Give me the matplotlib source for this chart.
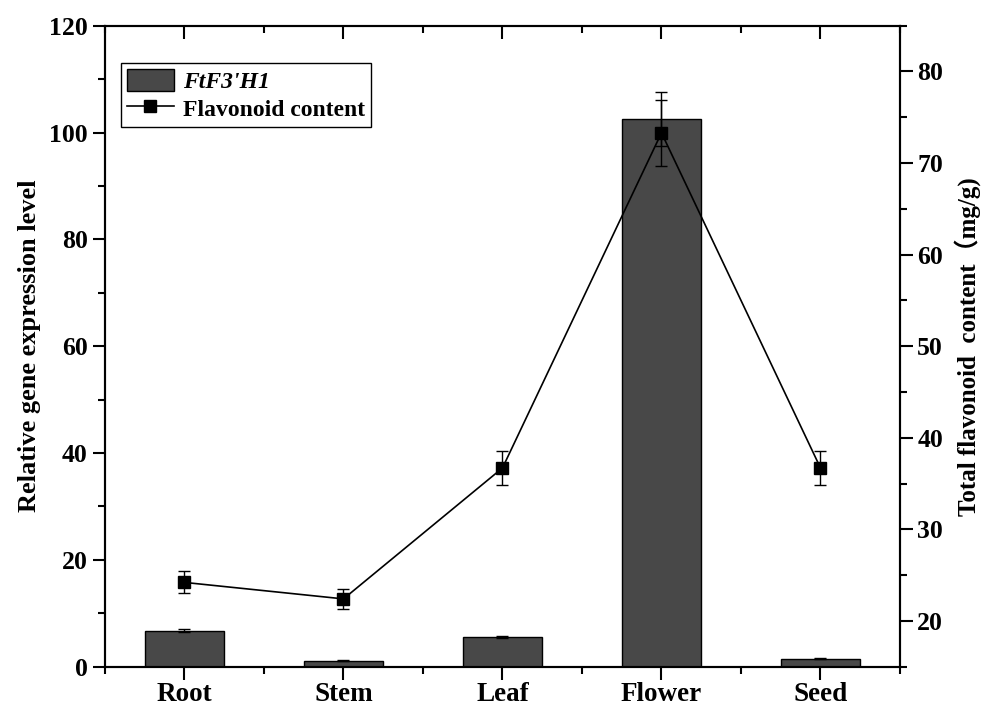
import numpy as np
import matplotlib
matplotlib.use("Agg")
import matplotlib.pyplot as plt
from matplotlib.ticker import MultipleLocator
from matplotlib.lines import Line2D

plt.rcParams["font.family"] = ["Liberation Serif", "Noto Sans CJK SC"]
plt.rcParams["font.weight"] = "bold"

# data
tissues = ["Root", "Stem", "Leaf", "Flower", "Seed"]
expr = [6.7, 1.1, 5.5, 102.5, 1.45]
expr_err = [0.3, 0.1, 0.2, 5.1, 0.1]
flav = [24.2, 22.4, 36.7, 73.3, 36.7]
flav_err = [1.2, 1.1, 1.9, 3.6, 1.9]

x = np.arange(len(tissues))

fig = plt.figure(figsize=(9.96, 7.08), dpi=100)
ax = fig.add_axes([0.1054, 0.0584, 0.7982, 0.9053])

bars = ax.bar(x, expr, width=0.5, color="#484848", edgecolor="black", linewidth=1.0,
              yerr=expr_err, capsize=4.5, error_kw=dict(elinewidth=1.0, capthick=1.0, ecolor="black"))
ax.set_xlim(-0.5, 4.5)
ax.set_ylim(0, 120)
ax.set_xticks(x)
ax.set_xticklabels(tissues, fontsize=19.5)
ax.xaxis.set_minor_locator(MultipleLocator(0.5))
ax.yaxis.set_major_locator(MultipleLocator(20))
ax.yaxis.set_minor_locator(MultipleLocator(10))
ax.tick_params(axis="y", which="major", labelsize=18.5)
ax.tick_params(axis="both", which="major", width=1.5, length=9, direction="out")
ax.tick_params(axis="both", which="minor", width=1.5, length=5, direction="out")
ax.tick_params(axis="x", which="both", top=True, pad=2)
ax.set_ylabel("Relative gene expression level", fontsize=19, fontweight="bold", labelpad=6)

ax2 = ax.twinx()
ax2.errorbar(x, flav, yerr=flav_err, color="black", marker="s", markersize=9,
             linewidth=1.2, elinewidth=1.0, capsize=4.5, capthick=1.0)
ax2.set_ylim(15, 85)
ax2.yaxis.set_major_locator(MultipleLocator(10))
ax2.yaxis.set_minor_locator(MultipleLocator(5))
ax2.tick_params(axis="y", which="major", labelsize=18.5, width=1.5, length=9, direction="out")
ax2.tick_params(axis="y", which="minor", width=1.5, length=5, direction="out")
ax2.set_ylabel("Total flavonoid  content（mg/g)", fontsize=18, fontweight="bold", labelpad=8)

# top ticks point inward, bottom ones outward
for t in ax.xaxis.get_major_ticks() + ax.xaxis.get_minor_ticks():
    t.tick2line.set_marker(matplotlib.lines.TICKDOWN)

for a in (ax, ax2):
    for s in a.spines.values():
        s.set_linewidth(1.5)

for lbl in ax.get_xticklabels() + ax.get_yticklabels() + ax2.get_yticklabels():
    lbl.set_fontweight("bold")

line_handle = Line2D([], [], color="black", marker="s", markersize=8, linewidth=1.2)
leg = ax2.legend([bars, line_handle], ["FtF3'H1", "Flavonoid content"], loc="upper left",
                 bbox_to_anchor=(0.0197, 0.942), borderaxespad=0, fancybox=False,
                 edgecolor="black", framealpha=1, prop=dict(size=17, weight="bold"),
                 handlelength=2.0, handleheight=1.1, handletextpad=0.4, borderpad=0.25,
                 labelspacing=0.15)
leg.get_frame().set_linewidth(1.0)
leg.get_texts()[0].set_fontstyle("italic")

fig.savefig("out.png", dpi=100)
